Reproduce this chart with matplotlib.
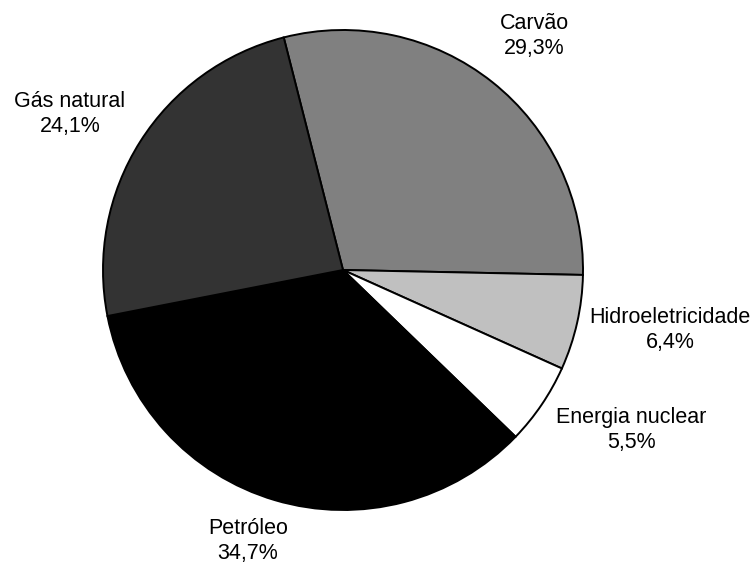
import matplotlib.pyplot as plt

plt.rcParams["font.family"] = ["Liberation Sans", "DejaVu Sans"]

# Energy sources and their share (%)
labels = ["Carvão", "Hidroeletricidade", "Energia nuclear", "Petróleo", "Gás natural"]
shares = [29.3, 6.4, 5.5, 34.7, 24.1]
colors = ["#808080", "#c0c0c0", "#ffffff", "#000000", "#333333"]
# label block centres (pixels from top-left)
label_xy = [(534, 36), (670, 330), (631, 430), (248, 541), (70, 114)]

W, H = 755, 567
fig = plt.figure(figsize=(W / 100, H / 100), dpi=100)
ax = fig.add_axes([0, 0, 1, 1])

ax.pie(
    shares,
    colors=colors,
    startangle=104.3,
    counterclock=False,
    center=(343, H - 270),
    radius=240,
    wedgeprops={"edgecolor": "black", "linewidth": 1.4},
    frame=True,
)
ax.set_xlim(0, W)
ax.set_ylim(0, H)
ax.set_aspect("auto")
ax.axis("off")

for name, val, (px, py) in zip(labels, shares, label_xy):
    txt = f"{name}\n{val:.1f}%".replace(".", ",")
    ax.text(px, H - py, txt, ha="center", va="center", fontsize=15.5,
            linespacing=1.3, color="black")

fig.savefig("out.png", dpi=100)
